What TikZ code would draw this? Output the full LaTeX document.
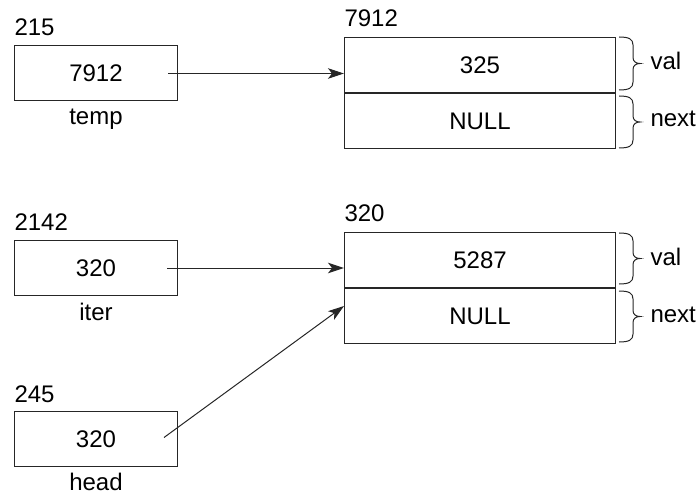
\documentclass[tikz,border=0pt]{standalone}
\usepackage{fontspec}
\setmainfont{Liberation Sans}
\usetikzlibrary{arrows.meta}
\tikzset{
  pics/rbrace/.style={code={
    \draw (0,0) .. controls (10,0) and (14,2) .. (14,8)
      -- (14,#1/2-6) .. controls (14,#1/2-2) and (17,#1/2) .. (21,#1/2)
      .. controls (17,#1/2) and (14,#1/2+2) .. (14,#1/2+6)
      -- (14,#1-8) .. controls (14,#1-2) and (10,#1) .. (0,#1);
  }}
}
\begin{document}
\begin{tikzpicture}[x=1bp,y=-1bp, line width=1bp, draw=black!85,
  every node/.style={font=\fontsize{24bp}{28bp}\selectfont, inner sep=0pt, text=black},
  varbox/.style={draw, minimum width=163bp, minimum height=55bp, anchor=north west},
  cellbox/.style={draw, minimum width=271bp, minimum height=55bp, anchor=north west},
  ptr/.style={-{Stealth[length=16bp,width=10.5bp,inset=4bp]}},
  addr/.style={anchor=base west},
  vname/.style={anchor=base},
  field/.style={anchor=base west}]
\useasboundingbox (0,0) rectangle (697,493);

% pointer variables
\node[varbox] (temp) at (14,45) {7912};
\node[addr] (tempaddr) at ([yshift=9bp]temp.north west) {215};
\node[vname] (tempname) at ([yshift=-24bp]temp.south) {temp};

\node[varbox] (iter) at (14,240) {320};
\node[addr] (iteraddr) at ([yshift=9.5bp]iter.north west) {2142};
\node[vname] (itername) at ([yshift=-24bp]iter.south) {iter};

\node[varbox] (head) at (14,411) {320};
\node[addr] (headaddr) at ([yshift=9bp]head.north west) {245};
\node[vname] (headname) at ([yshift=-23.5bp]head.south) {head};

% list nodes
\node[cellbox] (aval) at (344,37) {325};
\node[cellbox] (anext) at (aval.south west) {NULL};
\node[addr] (aaddr) at ([yshift=10.5bp]aval.north west) {7912};

\node[cellbox] (bval) at (344,232) {5287};
\node[cellbox] (bnext) at (bval.south west) {NULL};
\node[addr] (baddr) at ([yshift=10bp]bval.north west) {320};

% braces and field names
\pic at ([xshift=3bp]aval.north east) {rbrace=53};
\pic at ([xshift=3bp,yshift=-3bp]anext.north east) {rbrace=52};
\pic at ([xshift=3bp,yshift=-1bp]bval.north east) {rbrace=51};
\pic at ([xshift=3bp,yshift=-3bp]bnext.north east) {rbrace=51};

\node[field] (aval-l) at ([xshift=34bp,yshift=-5bp]aval.east) {val};
\node[field] (anext-l) at ([xshift=34bp,yshift=-6bp]anext.east) {next};
\node[field] (bval-l) at ([xshift=34bp,yshift=-5bp]bval.east) {val};
\node[field] (bnext-l) at ([xshift=34bp,yshift=-6bp]bnext.east) {next};

% pointers
\coordinate (tempptr) at ([xshift=-10bp,yshift=-0.5bp]temp.east);
\coordinate (iterptr) at ([xshift=-11bp]iter.east);
\coordinate (headptr) at ([xshift=-14bp,yshift=1.5bp]head.east);
\coordinate (headtip) at ([yshift=-18bp]bnext.north west);

\draw[ptr] (tempptr) -- (tempptr -| aval.west);
\draw[ptr] (iterptr) -- (iterptr -| bval.west);
\draw[ptr] (headptr) -- (headtip);
\end{tikzpicture}
\end{document}
